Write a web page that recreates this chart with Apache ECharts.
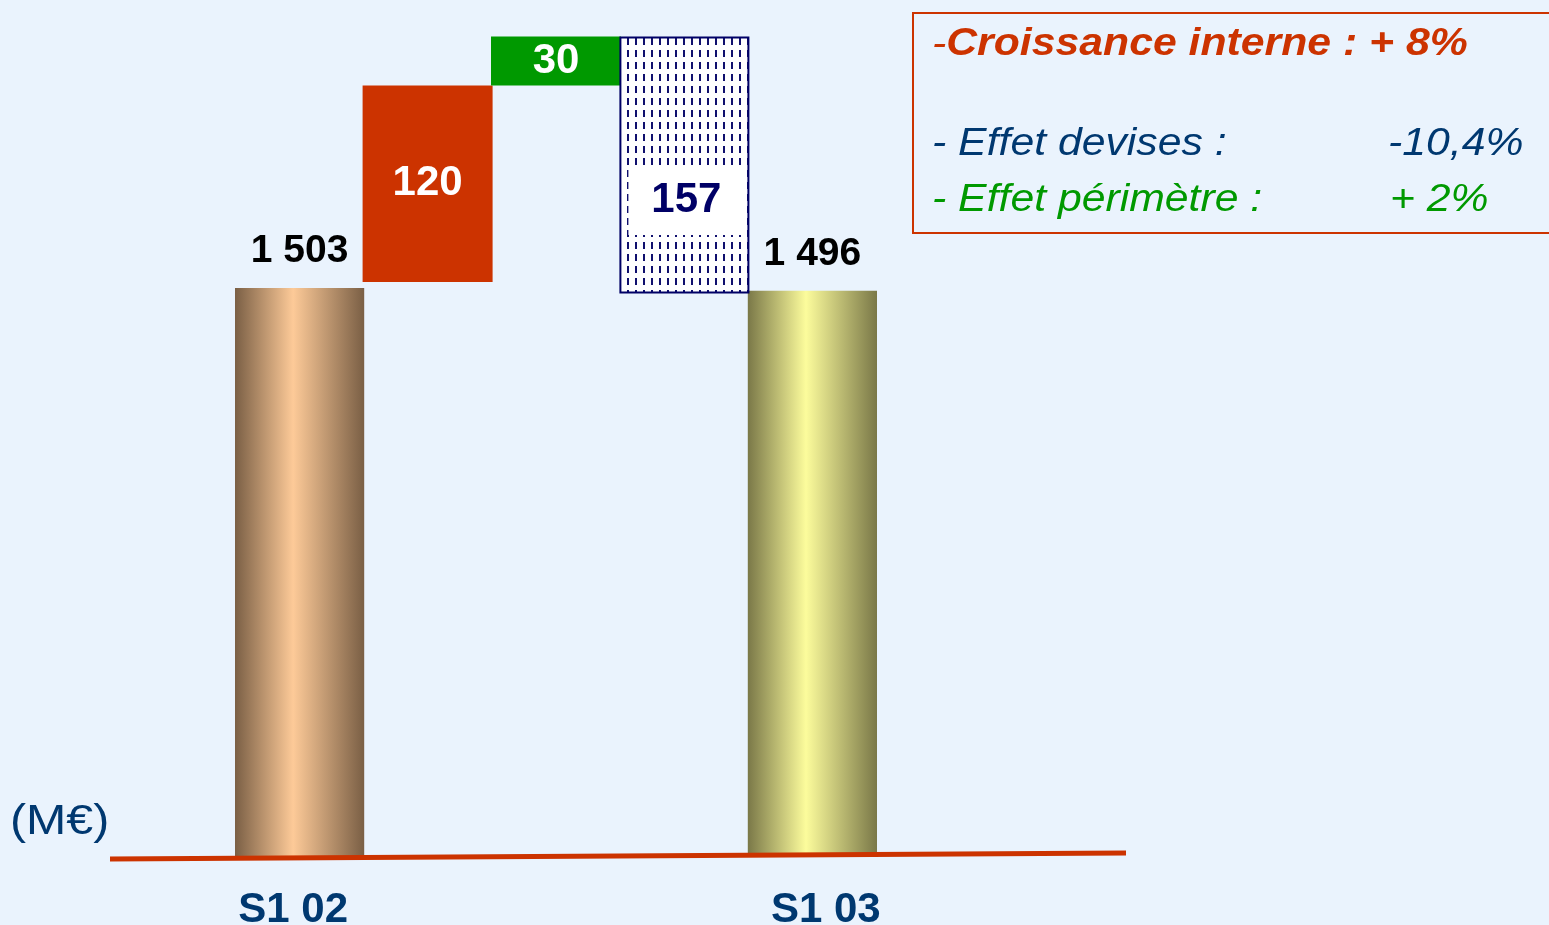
<!DOCTYPE html>
<html>
<head>
<meta charset="utf-8">
<script src="https://cdn.jsdelivr.net/npm/echarts@6/dist/echarts.min.js"></script>
<style>
  html, body { margin: 0; padding: 0; background: #eaf3fd; }
  #chart { width: 1549px; height: 925px; }
</style>
</head>
<body>
<div id="chart"></div>
<script>
// data (M€)
const categories = ['S1 02', '', '', '', 'S1 03'];
const totals = [1503, null, null, null, 1496];
const steps = [null, 120, 30, -157, null];

const stepColors = ['#cc3300', '#009900', 'pattern'];
const FONT = 'Liberation Sans, Arial, sans-serif';

// hatched fill for the currency effect
function makePattern() {
  const c = document.createElement('canvas');
  c.width = 8; c.height = 12;
  const ctx = c.getContext('2d');
  ctx.fillStyle = '#ffffff';
  ctx.fillRect(0, 0, 8, 12);
  ctx.fillStyle = '#10106e';
  ctx.fillRect(3, 2, 2, 7);
  return c;
}

function fmt(v) {
  return String(Math.abs(v)).replace(/\B(?=(\d{3})+(?!\d))/g, ' ');
}

// running level for the bridge
let level = totals[0];
const stepBase = [];
const stepData = [];
let k = 0;
steps.forEach((s) => {
  if (s == null) { stepBase.push(null); stepData.push(null); return; }
  const base = s >= 0 ? level : level + s;
  level += s;
  stepBase.push(base);
  const col = stepColors[k++];
  const isPat = col === 'pattern';
  stepData.push({
    value: Math.abs(s),
    itemStyle: isPat
      ? { color: { image: makePattern(), repeat: 'repeat' }, borderColor: '#000066', borderWidth: 2 }
      : { color: col },
    label: isPat
      ? { color: '#000066', backgroundColor: '#ffffff', width: 116, height: 70, lineHeight: 70, offset: [2, 35] }
      : { color: '#ffffff' }
  });
});

const totalGrad = [
  ['#7a5f45', '#fdca98'],
  null, null, null,
  ['#7a7848', '#fcfc9c']
];
const totalData = totals.map((v, i) => v == null ? null : {
  value: v,
  itemStyle: {
    color: new echarts.graphic.LinearGradient(0, 0, 1, 0, [
      { offset: 0, color: totalGrad[i][0] },
      { offset: 0.45, color: totalGrad[i][1] },
      { offset: 1, color: totalGrad[i][0] }
    ])
  }
});

const chart = echarts.init(document.getElementById('chart'));

const option = {
  backgroundColor: '#eaf3fd',
  animation: false,
  grid: { left: 235, right: 672, top: 20, bottom: 68, outerBoundsMode: 'none' },
  xAxis: {
    type: 'category',
    data: categories,
    axisLine: { show: false },
    axisTick: { show: false },
    axisLabel: {
      margin: 32,
      formatter: (v, i) => i === 0 ? '{l|' + v + '}' : '{r|' + v + '}',
      rich: {
        l: { color: '#003870', fontSize: 42, fontWeight: 'bold', fontFamily: FONT, padding: [0, 12, 0, 0] },
        r: { color: '#003870', fontSize: 42, fontWeight: 'bold', fontFamily: FONT, padding: [0, 0, 0, 26] }
      }
    }
  },
  yAxis: [
    { type: 'value', min: 0, max: 2211, show: false },
    { type: 'value', min: 1152, max: 1663, show: false }
  ],
  series: [
    {
      type: 'bar',
      yAxisIndex: 0,
      barWidth: 130,
      barGap: '-100%',
      data: totalData,
      label: {
        show: true, position: 'top', distance: 17,
        color: '#000000', fontSize: 39, fontWeight: 'bold', fontFamily: FONT,
        formatter: p => fmt(p.value)
      }
    },
    {
      type: 'bar',
      yAxisIndex: 1,
      stack: 'bridge',
      barWidth: 130,
      barGap: '-100%',
      itemStyle: { color: 'transparent' },
      data: stepBase
    },
    {
      type: 'bar',
      yAxisIndex: 1,
      stack: 'bridge',
      barWidth: 130,
      barGap: '-100%',
      data: stepData,
      label: {
        show: true, position: 'inside',
        fontSize: 42, fontWeight: 'bold', fontFamily: FONT,
        formatter: p => fmt(p.value)
      }
    }
  ],
  graphic: [
    {
      type: 'line', z: 100,
      shape: { x1: 110, y1: 859, x2: 1126, y2: 853 },
      style: { stroke: '#cc3300', lineWidth: 5 }
    },
    {
      type: 'text', x: 10, y: 801, scaleX: 1.15,
      style: { text: '(M€)', fill: '#003870', fontSize: 42, fontFamily: FONT }
    },
    {
      type: 'rect',
      shape: { x: 913, y: 13, width: 660, height: 220 },
      style: { fill: 'none', stroke: '#cc3300', lineWidth: 2 }
    },
    {
      type: 'text', x: 932, y: 26, scaleX: 1.125,
      style: {
        text: '{a|-}{b|Croissance interne : + 8%}',
        rich: {
          a: { fill: '#cc3300', fontSize: 38, fontStyle: 'italic', fontFamily: FONT },
          b: { fill: '#cc3300', fontSize: 38, fontStyle: 'italic', fontWeight: 'bold', fontFamily: FONT }
        }
      }
    },
    {
      type: 'text', x: 932, y: 125, scaleX: 1.125,
      style: { text: '- Effet devises :', fill: '#003870', fontSize: 38, fontStyle: 'italic', fontFamily: FONT }
    },
    {
      type: 'text', x: 1388, y: 125, scaleX: 1.125,
      style: { text: '-10,4%', fill: '#003870', fontSize: 38, fontStyle: 'italic', fontFamily: FONT }
    },
    {
      type: 'text', x: 932, y: 181, scaleX: 1.125,
      style: { text: '- Effet périmètre :', fill: '#009900', fontSize: 38, fontStyle: 'italic', fontFamily: FONT }
    },
    {
      type: 'text', x: 1390, y: 181, scaleX: 1.125,
      style: { text: '+ 2%', fill: '#009900', fontSize: 38, fontStyle: 'italic', fontFamily: FONT }
    }
  ]
};

chart.setOption(option);
window.addEventListener('resize', () => chart.resize());
</script>
</body>
</html>
